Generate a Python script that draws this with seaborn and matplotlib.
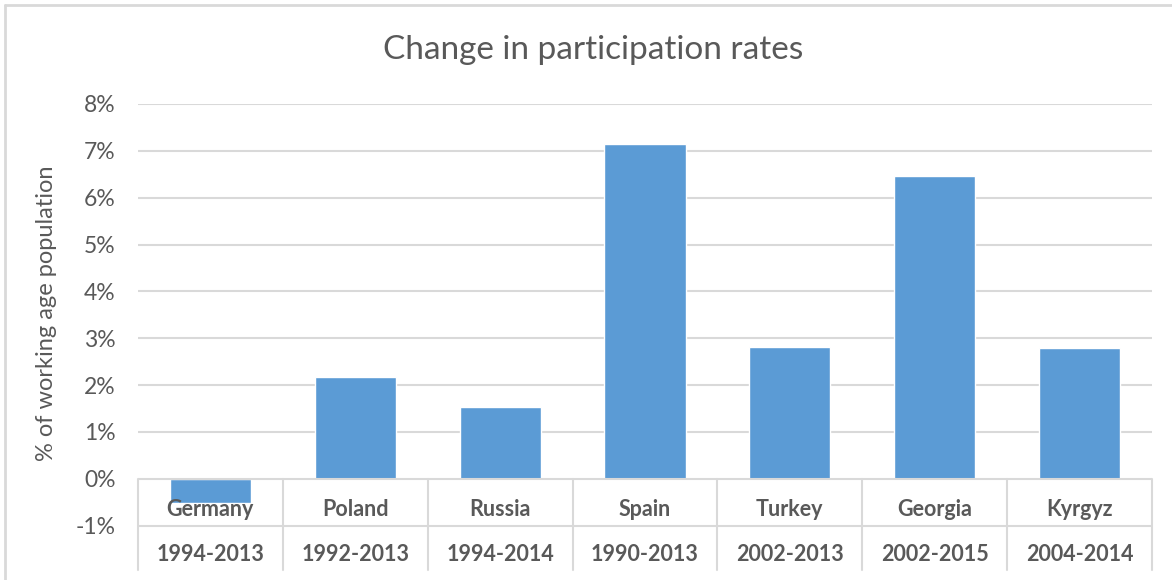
import matplotlib
matplotlib.use("Agg")
import matplotlib.pyplot as plt
import seaborn as sns
import pandas as pd
from matplotlib.lines import Line2D

# Données
countries = ["Germany", "Poland", "Russia", "Spain", "Turkey", "Georgia", "Kyrgyz"]
periods = ["1994-2013", "1992-2013", "1994-2014", "1990-2013", "2002-2013", "2002-2015", "2004-2014"]
change_pct = [-0.53, 2.18, 1.52, 7.14, 2.82, 6.46, 2.78]

sns.set_style("white")
plt.rcParams['font.family'] = ['Lato', 'DejaVu Sans']

TXT = '#595959'
GRID = '#d9d9d9'
BAR = '#5b9bd5'

df = pd.DataFrame({'country': countries, 'period': periods, 'value': change_pct})

fig = plt.figure(figsize=(11.72, 5.8), dpi=100)
ax = fig.add_axes([138 / 1172, 1 - 570 / 580, (1152 - 138) / 1172, (570 - 104) / 580])

sns.barplot(data=df, x='country', y='value', color=BAR, width=0.56,
            saturation=1, ax=ax, zorder=3)

ymin = -1.95
ax.set_ylim(ymin, 8)
ax.set_xlim(-0.5, len(countries) - 0.5)
ax.set_yticks(range(-1, 9))
ax.set_yticklabels([f'{v}%' for v in range(-1, 9)], color=TXT, fontsize=16.5)
ax.tick_params(axis='y', length=0, pad=16)
ax.set_xticks([])
ax.set_xlabel('')
ax.set_ylabel('% of working age population', color=TXT, fontsize=17)
ax.yaxis.set_label_coords(-0.08, 0.55)
for s in ax.spines.values():
    s.set_visible(False)

# grille horizontale
for v in range(1, 9):
    ax.axhline(v, color=GRID, lw=1.5, zorder=1)
ax.axhline(0, color=GRID, lw=1.5, zorder=4)
ax.axhline(-1, color=GRID, lw=1.5, zorder=1)

# tableau des catégories
for i in range(len(countries) + 1):
    ax.plot([i - 0.5, i - 0.5], [0, ymin], color=GRID, lw=1.5, zorder=1, clip_on=False)
for i, (c, p) in enumerate(zip(countries, periods)):
    ax.text(i, -0.66, c, ha='center', va='center', fontsize=15.5, fontweight='bold',
            color=TXT, zorder=5)
    ax.text(i, -1.62, p, ha='center', va='center', fontsize=15.5, fontweight='bold',
            color=TXT, zorder=5)

fig.text(0.506, 1 - 50 / 580, 'Change in participation rates', ha='center', va='center',
         fontsize=24, color=TXT)

# cadre
fig.add_artist(Line2D([5 / 1172, 1], [1 - 5 / 580, 1 - 5 / 580], color=GRID, lw=2))
fig.add_artist(Line2D([5 / 1172, 5 / 1172], [0, 1 - 5 / 580], color=GRID, lw=2))

fig.savefig('out.png', dpi=100)
plt.close(fig)
